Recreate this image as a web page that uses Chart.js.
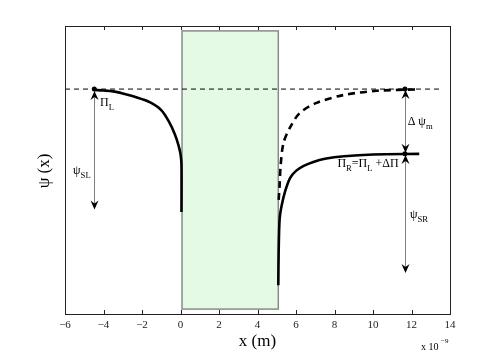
<!DOCTYPE html>
<html><head><meta charset="utf-8">
<script src="https://cdn.jsdelivr.net/npm/chart.js@4/dist/chart.umd.min.js"></script>
<style>html,body{margin:0;padding:0;background:#fff}#wrap{width:497px;height:354px}</style>
</head><body><div id="wrap"><canvas id="c" width="497" height="354"></canvas></div>
<script>
const xTicks = [-6, -4, -2, 0, 2, 4, 6, 8, 10, 12, 14];
const leftX = [-4.48, -4.0, -3.5, -3.0, -2.5, -2.0, -1.5, -1.0, -0.6, -0.3, -0.1, 0.0, 0.05, 0.05];
const leftY = [7.78, 7.76, 7.73, 7.66, 7.57, 7.46, 7.32, 7.08, 6.68, 6.25, 5.85, 5.55, 5.2, 3.54];
const rightX = [5.08, 5.1, 5.15, 5.25, 5.43, 5.69, 6.0, 6.4, 6.9, 7.5, 8.5, 10, 12.4];
const rightY = [1.0, 2.2, 3.3, 3.75, 4.25, 4.72, 4.97, 5.14, 5.28, 5.39, 5.48, 5.54, 5.56];
const dashX = [5.1, 5.15, 5.2, 5.35, 5.7, 6.2, 7.07, 8.45, 10.2, 12.4];
const dashY = [3.96, 4.48, 5.14, 5.94, 6.49, 6.98, 7.33, 7.60, 7.75, 7.80];
const levelX = [-6, 13.5];
const levelY = [7.81, 7.81];
const barrierX = [0.08, 5.08];
const barrierY = [0.17, 9.83];
const dotX = [-4.48, 11.66, 11.66];
const dotY = [7.81, 7.81, 5.56];
// arrows: [x, yFrom, yTo]
const arrows = [[-4.48, 7.74, 3.63], [11.66, 7.78, 5.6], [11.66, 5.52, 1.42]];

const pts = (xs, ys) => xs.map((v, i) => ({x: v, y: ys[i]}));
const SERIF = "'Liberation Serif', 'DejaVu Serif', serif";

function drawParts(ctx, parts, x, y, size) {
  let cx = x;
  for (const p of parts) {
    const s = p.sub ? size * 0.72 : size;
    ctx.font = s + 'px ' + SERIF;
    const dy = p.sub ? size * 0.32 : (p.sup ? -size * 0.45 : 0);
    ctx.fillText(p.t, cx, y + dy);
    cx += ctx.measureText(p.t).width;
  }
}

const deco = {
  id: 'deco',
  beforeDatasetsDraw(chart) {
    const {ctx, scales: {x, y}} = chart;
    const x0 = x.getPixelForValue(barrierX[0]), x1 = x.getPixelForValue(barrierX[1]);
    const y0 = y.getPixelForValue(barrierY[1]), y1 = y.getPixelForValue(barrierY[0]);
    ctx.save();
    ctx.fillStyle = '#e5fae5';
    ctx.fillRect(x0, y0, x1 - x0, y1 - y0);
    ctx.strokeStyle = '#8a8a8a';
    ctx.lineWidth = 1.5;
    ctx.strokeRect(x0, y0, x1 - x0, y1 - y0);
    ctx.restore();
  },
  afterDatasetsDraw(chart) {
    const {ctx, chartArea: a, scales: {x, y}} = chart;
    ctx.save();
    // arrows
    for (const [ax, yf, yt] of arrows) {
      const px = Math.round(x.getPixelForValue(ax)) + 0.5;
      const p1 = y.getPixelForValue(yf), p2 = y.getPixelForValue(yt);
      ctx.strokeStyle = '#808080'; ctx.lineWidth = 1;
      ctx.beginPath(); ctx.moveTo(px, p1 + 4); ctx.lineTo(px, p2 - 4); ctx.stroke();
      ctx.fillStyle = '#000';
      for (const [tip, dir] of [[p1, 1], [p2, -1]]) {
        ctx.beginPath();
        ctx.moveTo(px, tip);
        ctx.lineTo(px - 4, tip + 9 * dir);
        ctx.lineTo(px, tip + 6 * dir);
        ctx.lineTo(px + 4, tip + 9 * dir);
        ctx.closePath(); ctx.fill();
      }
    }
    // labels
    ctx.fillStyle = '#000';
    ctx.textBaseline = 'alphabetic';
    ctx.textAlign = 'left';
    const lab = (parts, vx, vy) => drawParts(ctx, parts, x.getPixelForValue(vx), y.getPixelForValue(vy), 12);
    lab([{t: 'Π'}, {t: 'L', sub: 1}], -4.18, 7.22);
    lab([{t: 'ψ'}, {t: 'SL', sub: 1}], -5.58, 4.86);
    lab([{t: 'Δ ψ'}, {t: 'm', sub: 1}], 11.8, 6.56);
    lab([{t: 'Π'}, {t: 'R', sub: 1}, {t: '=Π'}, {t: 'L', sub: 1}, {t: ' +ΔΠ'}], 8.15, 5.11);
    lab([{t: 'ψ'}, {t: 'SR', sub: 1}], 11.92, 3.33);
    // frame
    ctx.strokeStyle = '#222'; ctx.lineWidth = 1;
    ctx.strokeRect(Math.round(a.left) + 0.5, Math.round(a.top) + 0.5, Math.round(a.right - a.left), Math.round(a.bottom - a.top));
    // inward ticks top and bottom
    ctx.beginPath();
    for (const t of xTicks) {
      const px = Math.round(x.getPixelForValue(t)) + 0.5;
      ctx.moveTo(px, a.bottom); ctx.lineTo(px, a.bottom - 4);
      ctx.moveTo(px, a.top); ctx.lineTo(px, a.top + 4);
    }
    ctx.stroke();
    // titles
    ctx.fillStyle = '#000';
    ctx.textAlign = 'center'; ctx.textBaseline = 'middle';
    ctx.font = '17px ' + SERIF;
    ctx.fillText('x (m)', (a.left + a.right) / 2, 342);
    ctx.save();
    ctx.translate(45, 171); ctx.rotate(-Math.PI / 2);
    ctx.fillText('ψ (x)', 0, 0);
    ctx.restore();
    ctx.textAlign = 'left'; ctx.textBaseline = 'alphabetic';
    ctx.font = '10px ' + SERIF;
    ctx.fillText('x 10', 421, 350);
    ctx.font = '7px ' + SERIF;
    ctx.fillText('−9', 441, 343);
    ctx.restore();
  }
};

new Chart(document.getElementById('c'), {
  type: 'scatter',
  data: {
    datasets: [
      {data: pts(levelX, levelY), showLine: true, borderColor: '#000', borderWidth: 1, borderDash: [5, 4], pointRadius: 0, tension: 0},
      {data: pts(leftX, leftY), showLine: true, borderColor: '#000', borderWidth: 2.6, pointRadius: 0, tension: 0.3},
      {data: pts(rightX, rightY), showLine: true, borderColor: '#000', borderWidth: 2.6, pointRadius: 0, tension: 0.3},
      {data: pts(dashX, dashY), showLine: true, borderColor: '#000', borderWidth: 2.6, borderDash: [7, 5], pointRadius: 0, tension: 0.3},
      {data: pts(dotX, dotY), showLine: false, pointRadius: 2.5, pointBackgroundColor: '#000', pointBorderWidth: 0}
    ]
  },
  options: {
    responsive: false, animation: false, devicePixelRatio: 1,
    layout: {padding: {left: 65, right: 47, top: 26, bottom: 0}},
    plugins: {legend: {display: false}, tooltip: {enabled: false}},
    scales: {
      x: {
        type: 'linear', min: -6, max: 14,
        afterFit: s => { s.height = 40; },
        grid: {display: false, drawTicks: false}, border: {display: false},
        ticks: {stepSize: 2, padding: 5, color: '#222', font: {family: SERIF, size: 11},
          callback: v => String(v).replace('-', '\u2212')}
      },
      y: {type: 'linear', min: 0, max: 10, display: false}
    }
  },
  plugins: [deco]
});
</script></body></html>
